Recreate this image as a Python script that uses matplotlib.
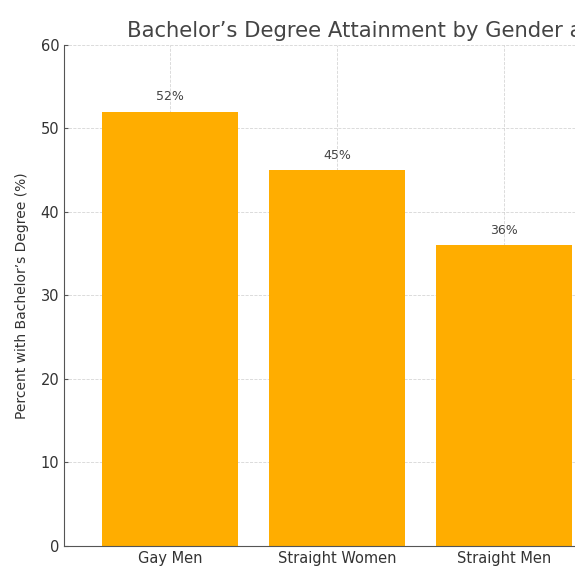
import matplotlib
matplotlib.use("Agg")
from matplotlib import pyplot as plt

groups = ["Gay Men", "Straight Women", "Straight Men"]
pct_bachelor = [52, 45, 36]
yticks = [0, 10, 20, 30, 40, 50, 60]
title = "Bachelor\u2019s Degree Attainment by Gender and Sexual Orientation"

bar_color = "#ffad00"
text_color = "#444444"

fig = plt.figure(figsize=(5.75, 5.79), dpi=100)
# the reference is cropped on the right, so the axes run past the figure edge
ax = fig.add_axes([0.1113, 0.057, 1.24, 0.8653])

x = list(range(len(groups)))
ax.bar(x, pct_bachelor, width=0.82, color=bar_color, zorder=2)
for xi, v in zip(x, pct_bachelor):
    ax.text(xi, v + 1, f"{v}%", ha="center", va="bottom", fontsize=9, color=text_color)

ax.set_xlim(-0.635, 3.635)
ax.set_ylim(0, 60)
ax.set_yticks(yticks)
ax.set_xticks(x)
ax.set_xticklabels(groups)
ax.tick_params(direction="in", length=3, colors="#555555", labelcolor="#333333", labelsize=10.5)
ax.set_ylabel("Percent with Bachelor\u2019s Degree (%)", fontsize=10, color="#333333", labelpad=8)

ax.grid(True, linestyle="--", linewidth=0.6, color="#bbbbbb", alpha=0.6, zorder=3)
for s in ["top", "right"]:
    ax.spines[s].set_visible(False)
for s in ["left", "bottom"]:
    ax.spines[s].set_color("#555555")

fig.text(127 / 575, 1 - 37 / 579, title, ha="left", va="baseline", fontsize=15.2, color="#444444")

fig.savefig("out.png", dpi=100)
